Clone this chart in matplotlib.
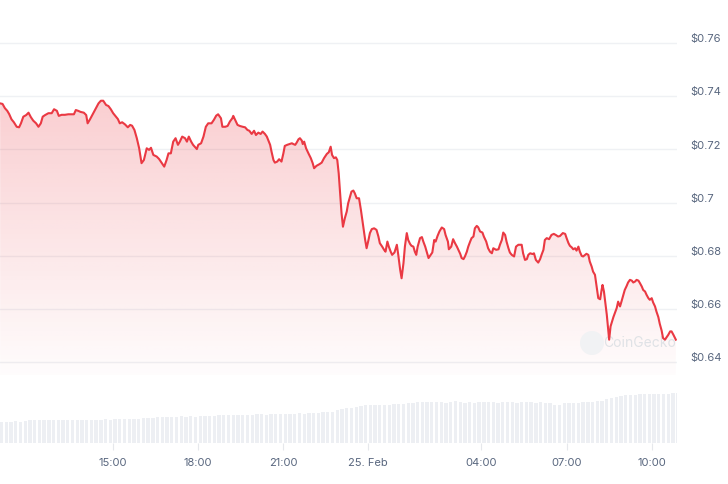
import numpy as np
import pandas as pd
import matplotlib
matplotlib.use('Agg')
import matplotlib.pyplot as plt
import matplotlib.dates as mdates
from matplotlib.transforms import ScaledTranslation
from matplotlib.patches import Circle

# price readings (Feb 24 11:02 -> Feb 25 10:51)
times = [
    '11:02', '11:07', '11:12', '11:17', '11:21', '11:26', '11:31', '11:37', '11:42', '11:46', '11:51', '11:57',
    '12:02', '12:07', '12:12', '12:18', '12:23', '12:28', '12:32', '12:37', '12:44', '12:51', '12:56',
    '13:02', '13:06', '13:12', '13:19', '13:26', '13:33', '13:38', '13:42', '13:47', '13:52', '13:59',
    '14:04', '14:07', '14:12', '14:19', '14:25', '14:30', '14:35', '14:40', '14:46', '14:51', '14:56',
    '15:01', '15:07', '15:11', '15:15', '15:20', '15:26', '15:32', '15:37', '15:41', '15:46', '15:51', '15:56',
    '16:01', '16:06', '16:12', '16:17', '16:21', '16:26', '16:33', '16:38', '16:44', '16:49', '16:54', '16:58',
    '17:03', '17:08', '17:13', '17:18', '17:22', '17:27', '17:33', '17:37', '17:41', '17:46', '17:50', '17:58',
    '18:01', '18:07', '18:12', '18:17', '18:22', '18:29', '18:34', '18:39', '18:43', '18:49', '18:52', '18:58',
    '19:03', '19:08', '19:13', '19:15', '19:24', '19:29', '19:35', '19:40', '19:45', '19:49', '19:54', '19:59',
    '20:03', '20:08', '20:13', '20:17', '20:22', '20:26', '20:29', '20:33', '20:36', '20:40', '20:43', '20:48',
    '20:52', '20:57',
    '21:01', '21:04', '21:09', '21:14', '21:19', '21:22', '21:26', '21:29', '21:33', '21:36', '21:40', '21:42',
    '21:45', '21:49', '21:54', '21:59',
    '22:03', '22:06', '22:11', '22:17', '22:22', '22:27', '22:33', '22:37', '22:41', '22:44', '22:48', '22:52',
    '22:55', '22:58',
    '23:01', '23:04', '23:07', '23:11', '23:15', '23:18', '23:22', '23:25', '23:29', '23:32', '23:36', '23:41',
    '23:45', '23:50', '23:54', '23:57',
    '00:01', '00:04', '00:08', '00:13', '00:18', '00:22', '00:25', '00:30', '00:34', '00:37', '00:41', '00:44',
    '00:48', '00:51', '00:56',
    '01:01', '01:04', '01:08', '01:11', '01:15', '01:18', '01:22', '01:25', '01:29', '01:32', '01:36', '01:39',
    '01:42', '01:45', '01:50', '01:54', '01:57',
    '02:01', '02:04', '02:08', '02:11', '02:16', '02:20', '02:23', '02:27', '02:31', '02:36', '02:41', '02:44',
    '02:49', '02:51', '02:56',
    '03:00', '03:04', '03:08', '03:11', '03:15', '03:18', '03:22', '03:25', '03:29', '03:32', '03:36', '03:39',
    '03:43', '03:46', '03:50', '03:53', '03:57',
    '04:02', '04:05', '04:10', '04:14', '04:18', '04:22', '04:25', '04:31', '04:36', '04:39', '04:43', '04:46',
    '04:50', '04:53', '04:57',
    '05:00', '05:04', '05:09', '05:13', '05:18', '05:25', '05:28', '05:32', '05:36', '05:39', '05:43', '05:48',
    '05:51', '05:55',
    '06:00', '06:04', '06:07', '06:11', '06:14', '06:18', '06:23', '06:28', '06:33', '06:38', '06:42', '06:46',
    '06:52', '06:57',
    '07:00', '07:04', '07:07', '07:11', '07:14', '07:18', '07:21', '07:25', '07:28', '07:32', '07:35', '07:39',
    '07:42', '07:46', '07:49', '07:53', '07:56',
    '08:00', '08:04', '08:07', '08:11', '08:14', '08:16', '08:19', '08:22', '08:25', '08:28', '08:30', '08:33',
    '08:35', '08:39', '08:42', '08:46', '08:49', '08:53', '08:56',
    '09:00', '09:03', '09:07', '09:10', '09:14', '09:18', '09:21', '09:25', '09:28', '09:32', '09:35', '09:39',
    '09:42', '09:46', '09:49', '09:53', '09:56',
    '10:00', '10:03', '10:07', '10:10', '10:14', '10:17', '10:21', '10:24', '10:28', '10:32', '10:35', '10:39',
    '10:42', '10:46', '10:51',
]

prices = [
    0.7373, 0.7371, 0.7355, 0.7345, 0.7333, 0.7313, 0.7302, 0.7285, 0.7283, 0.7298, 0.7323, 0.7329,
    0.7338, 0.7321, 0.7308, 0.7298, 0.7285, 0.7298, 0.7323, 0.7329, 0.7336, 0.7336, 0.7351,
    0.7345, 0.7326, 0.7330, 0.7330, 0.7332, 0.7332, 0.7332, 0.7348, 0.7345, 0.7341, 0.7338,
    0.7329, 0.7298, 0.7313, 0.7336, 0.7355, 0.7373, 0.7383, 0.7383, 0.7367, 0.7363, 0.7351,
    0.7336, 0.7323, 0.7314, 0.7298, 0.7302, 0.7294, 0.7283, 0.7292, 0.7289, 0.7273, 0.7242, 0.7204,
    0.7148, 0.7160, 0.7204, 0.7198, 0.7206, 0.7179, 0.7173, 0.7164, 0.7148, 0.7135, 0.7160, 0.7185,
    0.7185, 0.7229, 0.7242, 0.7217, 0.7229, 0.7248, 0.7242, 0.7229, 0.7248, 0.7229, 0.7217, 0.7201,
    0.7217, 0.7223, 0.7248, 0.7285, 0.7298, 0.7298, 0.7311, 0.7327, 0.7332, 0.7317, 0.7285, 0.7285,
    0.7288, 0.7305, 0.7317, 0.7326, 0.7292, 0.7288, 0.7285, 0.7283, 0.7273, 0.7270, 0.7258, 0.7270,
    0.7254, 0.7263, 0.7258, 0.7267, 0.7258, 0.7248, 0.7235, 0.7217, 0.7191, 0.7160, 0.7150, 0.7154,
    0.7163, 0.7154,
    0.7185, 0.7213, 0.7217, 0.7220, 0.7223, 0.7220, 0.7217, 0.7225, 0.7238, 0.7242, 0.7233, 0.7220,
    0.7229, 0.7204, 0.7185, 0.7167,
    0.7148, 0.7129, 0.7138, 0.7144, 0.7150, 0.7167, 0.7183, 0.7189, 0.7210, 0.7179, 0.7167, 0.7170,
    0.7160, 0.7110,
    0.7035, 0.6960, 0.6909, 0.6941, 0.6966, 0.6997, 0.7022, 0.7041, 0.7045, 0.7035, 0.7016, 0.7016,
    0.6972, 0.6909, 0.6859, 0.6828,
    0.6859, 0.6885, 0.6900, 0.6903, 0.6897, 0.6872, 0.6847, 0.6834, 0.6822, 0.6815, 0.6853, 0.6834,
    0.6815, 0.6803, 0.6812,
    0.6841, 0.6803, 0.6747, 0.6715, 0.6772, 0.6834, 0.6885, 0.6859, 0.6844, 0.6837, 0.6834, 0.6815,
    0.6803, 0.6834, 0.6866, 0.6870, 0.6853,
    0.6834, 0.6815, 0.6791, 0.6799, 0.6812, 0.6859, 0.6853, 0.6874, 0.6891, 0.6906, 0.6900, 0.6878,
    0.6853, 0.6824, 0.6834,
    0.6862, 0.6847, 0.6834, 0.6822, 0.6807, 0.6791, 0.6787, 0.6797, 0.6815, 0.6834, 0.6853, 0.6866,
    0.6872, 0.6903, 0.6912, 0.6907, 0.6891,
    0.6887, 0.6872, 0.6853, 0.6828, 0.6815, 0.6809, 0.6828, 0.6822, 0.6824, 0.6841, 0.6859, 0.6887,
    0.6878, 0.6853, 0.6828,
    0.6812, 0.6803, 0.6797, 0.6834, 0.6841, 0.6841, 0.6809, 0.6784, 0.6787, 0.6803, 0.6809, 0.6806,
    0.6809, 0.6784,
    0.6774, 0.6787, 0.6803, 0.6822, 0.6859, 0.6866, 0.6862, 0.6878, 0.6882, 0.6877, 0.6872, 0.6874,
    0.6885, 0.6882,
    0.6866, 0.6847, 0.6837, 0.6831, 0.6824, 0.6828, 0.6819, 0.6834, 0.6815, 0.6799, 0.6797, 0.6803,
    0.6807, 0.6803, 0.6778, 0.6759, 0.6740,
    0.6728, 0.6678, 0.6640, 0.6636, 0.6671, 0.6690, 0.6665, 0.6621, 0.6578, 0.6521, 0.6484, 0.6534,
    0.6546, 0.6569, 0.6584, 0.6603, 0.6627, 0.6609, 0.6627,
    0.6653, 0.6671, 0.6686, 0.6699, 0.6709, 0.6706, 0.6699, 0.6703, 0.6709, 0.6706, 0.6697, 0.6684,
    0.6671, 0.6665, 0.6653, 0.6640, 0.6634,
    0.6640, 0.6624, 0.6609, 0.6590, 0.6569, 0.6544, 0.6518, 0.6490, 0.6484, 0.6494, 0.6502, 0.6515,
    0.6515, 0.6502, 0.6484,
]

# volume bars, one every 10 minutes from Feb 24 11:00 (relative units)
volumes = [
    21.0, 21.2, 20.8, 21.5, 21.0, 22.0,
    22.3, 22.5, 22.4, 22.6, 22.5, 22.4,
    22.6, 22.5, 22.7, 22.4, 22.6, 22.5,
    22.7, 22.6, 22.8, 22.5, 23.5, 23.2,
    23.6, 23.8, 24.0, 23.8, 24.2, 24.0,
    24.5, 24.8, 25.2, 25.6, 26.0, 25.8,
    26.2, 25.9, 26.3, 26.0, 26.4, 25.5,
    26.8, 27.0, 27.2, 27.0, 27.5, 27.4,
    27.6, 27.8, 28.0, 27.9, 28.2, 28.0,
    28.4, 28.6, 27.5, 28.8, 29.0, 28.7,
    29.0, 29.2, 28.6, 29.4, 29.0, 29.3,
    29.5, 29.8, 30.5, 30.8, 31.0, 32.5,
    33.5, 34.5, 35.0, 35.5, 36.8, 37.4,
    37.6, 37.8, 38.0, 37.9, 38.2, 38.4,
    38.5, 39.0, 39.6, 40.2, 40.8, 40.5,
    41.0, 40.6, 41.2, 40.8, 40.0, 40.9,
    41.3, 40.7, 39.5, 40.6, 40.2, 40.8,
    40.3, 40.8, 40.6, 40.2, 40.9, 40.4,
    40.5, 40.2, 40.7, 40.3, 40.6, 40.1,
    40.4, 40.0, 39.6, 37.5, 38.0, 39.8,
    40.2, 39.8, 40.0, 40.5, 40.8, 41.2,
    41.5, 42.0, 43.5, 44.5, 45.5, 46.5,
    47.5, 48.0, 48.2, 48.4, 48.6, 48.5,
    48.8, 48.7, 49.0, 48.5, 49.3, 49.6,
]

ytick_vals = [0.64, 0.66, 0.68, 0.70, 0.72, 0.74, 0.76]
ytick_labels = ['$0.64', '$0.66', '$0.68', '$0.7', '$0.72', '$0.74', '$0.76']
xtick_times = ['2024-02-24 15:00', '2024-02-24 18:00', '2024-02-24 21:00', '2024-02-25 00:00',
               '2024-02-25 04:00', '2024-02-25 07:00', '2024-02-25 10:00']
xtick_labels = ['15:00', '18:00', '21:00', '25. Feb', '04:00', '07:00', '10:00']

# build timestamps, rolling over to the next day at midnight
stamps = []
day = pd.Timestamp('2024-02-24')
prev = None
for s in times:
    t = pd.Timestamp(f'{day.date()} {s}')
    if prev is not None and t < prev:
        day = day + pd.Timedelta(days=1)
        t = t + pd.Timedelta(days=1)
    stamps.append(t)
    prev = t
tx = mdates.date2num(stamps)
vol_t = mdates.date2num(pd.date_range('2024-02-24 11:05', periods=len(volumes), freq='10min'))

red = '#ea3943'
grey_txt = '#58667e'
x0 = mdates.date2num(pd.Timestamp('2024-02-24 11:01:40'))
x1 = mdates.date2num(pd.Timestamp('2024-02-25 10:53:30'))
ylo, yhi = 0.6351, 0.7762

plt.rcParams['font.family'] = ['Inter', 'DejaVu Sans']
fig = plt.figure(figsize=(7.28, 4.84), dpi=100)
ax = fig.add_axes([0, 1 - 375 / 484, 677 / 728, 375 / 484])
axv = fig.add_axes([0, 1 - 442.7 / 484, 677 / 728, 62.7 / 484])

# price pane
for v in ytick_vals:
    ax.axhline(v, color='#eff1f4', lw=1, zorder=0)
ax.plot(tx, prices, color=red, lw=1.5, zorder=4, solid_joinstyle='round')

grad = np.zeros((256, 2, 4))
rgb = matplotlib.colors.to_rgb(red)
grad[:, :, 0], grad[:, :, 1], grad[:, :, 2] = rgb
grad[:, :, 3] = np.linspace(0.33, 0.015, 256)[:, None]
im = ax.imshow(grad, extent=[x0, x1, ylo, yhi], origin='upper', aspect='auto', zorder=1)
fill = ax.fill_between(tx, prices, ylo, facecolor='none', edgecolor='none')
im.set_clip_path(fill.get_paths()[0], transform=ax.transData)

ax.set_xlim(x0, x1)
ax.set_ylim(ylo, yhi)
ax.yaxis.tick_right()
ax.set_yticks(ytick_vals)
ax.set_yticklabels(ytick_labels)
ax.tick_params(axis='y', length=0, pad=9.5, labelsize=8, labelcolor=grey_txt)
for lab in ax.get_yticklabels():
    lab.set_transform(lab.get_transform() + ScaledTranslation(0, 3.5 / 72, fig.dpi_scale_trans))
ax.set_xticks([])
for sp in ax.spines.values():
    sp.set_visible(False)
ax.patch.set_alpha(0)

# watermark, under the price line
ax.add_patch(Circle((592, 484 - 343), 12, transform=None, facecolor='#f1f2f4',
                    edgecolor='none', zorder=2, clip_on=False))
ax.text(603 / 728, 1 - 343 / 484, 'CoinGecko', transform=fig.transFigure, fontsize=10,
        color='#dfe2e6', va='center', ha='left', zorder=3, clip_on=False)

# volume pane
axv.bar(vol_t, volumes, width=10 / 1440 * 0.7, color='#edeff3', linewidth=0)
axv.set_xlim(x0, x1)
axv.set_ylim(0, 62.7)
axv.set_yticks([])
axv.set_xticks(mdates.date2num(pd.to_datetime(xtick_times)))
axv.set_xticklabels(xtick_labels)
axv.tick_params(axis='x', length=5, color='#e6e8ec', pad=6, labelsize=8, labelcolor=grey_txt)
for sp in axv.spines.values():
    sp.set_visible(False)
axv.patch.set_alpha(0)

fig.savefig('out.png', dpi=100)
